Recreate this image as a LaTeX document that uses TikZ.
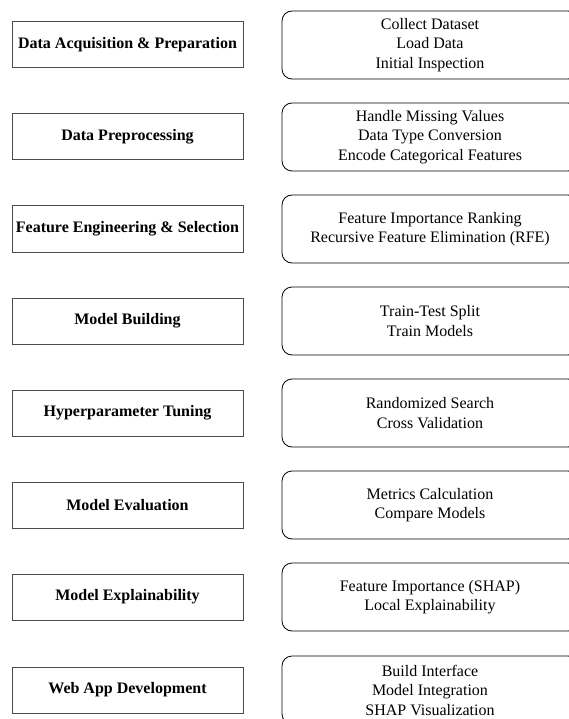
\documentclass[tikz,border=0pt]{standalone}
\usepackage{fontspec}
\setmainfont{Liberation Serif}
\begin{document}
\begin{tikzpicture}[x=1pt,y=-1pt,
  stage/.style={draw=black!70, line width=1pt, minimum width=231pt, minimum height=46pt,
    inner sep=0pt, font=\fontsize{16}{19}\selectfont\bfseries},
  detail/.style={draw=black, line width=0.8pt, rounded corners=10pt, minimum width=296pt,
    minimum height=68pt, inner sep=0pt, align=center, font=\fontsize{16}{19.5}\selectfont}]
\useasboundingbox (0,0) rectangle (569,719);
\clip (0,0) rectangle (569,719);

% pipeline stages (left) and their tasks (right)
\node[stage]  (s1) at (127.5,45)  {Data Acquisition \& Preparation};
\node[detail] (d1) at (430,45)    {Collect Dataset\\Load Data\\Initial Inspection};

\node[stage]  (s2) at (127.5,137) {Data Preprocessing};
\node[detail] (d2) at (430,137)   {Handle Missing Values\\Data Type Conversion\\Encode Categorical Features};

\node[stage]  (s3) at (127.5,229) {Feature Engineering \& Selection};
\node[detail] (d3) at (430,229)   {Feature Importance Ranking\\Recursive Feature Elimination (RFE)};

\node[stage]  (s4) at (127.5,321) {Model Building};
\node[detail] (d4) at (430,321)   {Train-Test Split\\Train Models};

\node[stage]  (s5) at (127.5,413) {Hyperparameter Tuning};
\node[detail] (d5) at (430,413)   {Randomized Search\\Cross Validation};

\node[stage]  (s6) at (127.5,505) {Model Evaluation};
\node[detail] (d6) at (430,505)   {Metrics Calculation\\Compare Models};

\node[stage]  (s7) at (127.5,597) {Model Explainability};
\node[detail] (d7) at (430,597)   {Feature Importance (SHAP)\\Local Explainability};

\node[stage]  (s8) at (127.5,690) {Web App Development};
\node[detail] (d8) at (430,690)   {Build Interface\\Model Integration\\SHAP Visualization};
\end{tikzpicture}
\end{document}
